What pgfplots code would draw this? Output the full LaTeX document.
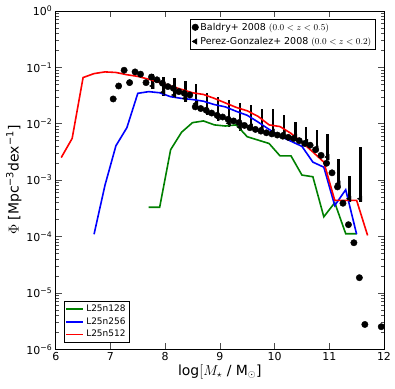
\documentclass[border=0pt]{standalone}
\usepackage{fontspec}
\setmainfont{DejaVu Sans}
\usepackage{pgfplots}
\usepackage{pgfplotstable}
\pgfplotsset{compat=1.18}

\definecolor{mplgreen}{rgb}{0,0.5,0}

% log10 values
\pgfplotstableread{
x ly
6.1 -2.60
6.3 -2.26
6.5 -1.18
6.7 -1.11
6.9 -1.08
7.1 -1.09
7.3 -1.13
7.5 -1.16
7.7 -1.21
7.9 -1.27
8.1 -1.33
8.3 -1.39
8.5 -1.45
8.7 -1.48
8.9 -1.55
9.1 -1.63
9.3 -1.71
9.5 -1.77
9.7 -1.87
9.9 -2.02
10.1 -2.05
10.3 -2.17
10.5 -2.33
10.7 -2.50
10.9 -2.68
11.1 -3.36
11.3 -3.36
11.5 -3.36
11.7 -3.98
}\lbig

\pgfplotstableread{
x ly
6.7 -3.96
6.9 -3.09
7.1 -2.39
7.3 -2.07
7.5 -1.46
7.7 -1.43
7.9 -1.45
8.1 -1.52
8.3 -1.55
8.5 -1.57
8.7 -1.60
8.9 -1.66
9.1 -1.70
9.3 -1.78
9.5 -1.85
9.7 -1.97
9.9 -2.10
10.1 -2.22
10.3 -2.31
10.5 -2.40
10.7 -2.68
10.9 -2.77
11.1 -3.45
11.3 -3.17
11.5 -3.96
}\lmid

\pgfplotstableread{
x ly
7.7 -3.48
7.9 -3.48
8.1 -2.46
8.3 -2.15
8.5 -1.98
8.7 -1.95
8.9 -2.02
9.1 -2.04
9.3 -2.02
9.5 -2.23
9.7 -2.29
9.9 -2.35
10.1 -2.57
10.3 -2.57
10.5 -2.91
10.7 -2.94
10.9 -3.65
11.1 -3.40
11.3 -3.95
11.5 -3.95
}\lsmall

\pgfplotstableread{
x ly
7.05 -1.56
7.15 -1.33
7.25 -1.05
7.35 -1.27
7.45 -1.08
7.55 -1.12
7.65 -1.27
7.75 -1.17
7.85 -1.22
7.95 -1.28
8.05 -1.34
8.15 -1.37
8.25 -1.43
8.35 -1.46
8.45 -1.49
8.55 -1.70
8.65 -1.73
8.75 -1.76
8.85 -1.81
8.95 -1.85
9.05 -1.88
9.15 -1.92
9.25 -1.95
9.35 -1.98
9.45 -2.03
9.55 -2.07
9.65 -2.10
9.75 -2.13
9.85 -2.16
9.95 -2.18
10.05 -2.20
10.15 -2.22
10.25 -2.24
10.35 -2.26
10.45 -2.30
10.55 -2.35
10.65 -2.38
10.75 -2.46
10.85 -2.56
10.95 -2.70
11.05 -2.87
11.15 -3.12
11.25 -3.41
11.35 -3.79
11.45 -4.11
11.55 -4.73
11.65 -5.56
11.95 -5.60
}\baldry

% x, marker, top, bottom (log10)
\pgfplotstableread{
x m t b
7.77 -1.33 -1.12 -1.39
7.97 -1.44 -1.17 -1.50
8.17 -1.49 -1.18 -1.55
8.37 -1.55 -1.25 -1.61
8.57 -1.64 -1.30 -1.70
8.77 -1.79 -1.45 -1.85
8.97 -1.89 -1.52 -1.95
9.17 -1.99 -1.58 -2.05
9.37 -2.06 -1.64 -2.12
9.57 -2.05 -1.67 -2.11
9.77 -2.08 -1.73 -2.14
9.97 -2.14 -1.73 -2.20
10.17 -2.17 -1.85 -2.23
10.38 -2.23 -1.97 -2.29
10.58 -2.32 -2.05 -2.38
10.77 -2.44 -2.11 -2.50
10.97 -2.59 -2.18 -2.65
11.17 -3.06 -2.63 -3.12
11.37 -3.33 -2.93 -3.39
11.57 -3.33 -2.42 -3.39
}\perez

\begin{document}
\begin{tikzpicture}
\begin{axis}[name=ax, scale only axis, width=328bp, height=338bp,
  xmin=6, xmax=12, ymin=1e-6, ymax=1, ymode=log,
  xtick={6,...,12}, xticklabels={6,7,8,9,10,11,12},
  ytick={1e-6,1e-5,1e-4,1e-3,1e-2,1e-1,1},
  yticklabels={10\textsuperscript{−6},10\textsuperscript{−5},10\textsuperscript{−4},10\textsuperscript{−3},10\textsuperscript{−2},10\textsuperscript{−1},10\textsuperscript{0}},
  tick align=inside, xtick pos=both, ytick pos=both,
  major tick length=6bp, minor tick length=3bp,
  tick style={black!70, line width=0.6bp},
  axis line style={line width=0.8bp},
  tick label style={font=\fontsize{11}{13}\selectfont},
  xlabel={$\log[M_{\star}$ / M$_{\odot}$]},
  ylabel={$\Phi$ [Mpc\textsuperscript{−3}dex\textsuperscript{−1}]},
  label style={font=\fontsize{14}{16}\selectfont},
  xlabel style={yshift=3bp},
  ylabel style={yshift=-2bp},
  legend cell align=left,
  legend style={at={(0.973,0.976)}, anchor=north east, font=\fontsize{9.5}{11}\selectfont,
    draw=black, line width=0.6bp, inner sep=1.5bp, row sep=1.5bp},
]
\addplot[only marks, mark=*, mark size=3.2bp, black] table[x=x, y expr=10^(\thisrow{ly})] {\baldry};
\addlegendentry{Baldry+ 2008 $(0.0<z<0.5)$}
\addplot[only marks, mark=triangle*, mark size=3bp, mark options={rotate=90}, black,
  error bars/.cd, y dir=both, y explicit, error mark=none,
  error bar style={line width=2.3bp, black}]
  table[x=x, y expr=10^(\thisrow{m}),
    y error plus expr=10^(\thisrow{t})-10^(\thisrow{m}),
    y error minus expr=10^(\thisrow{m})-10^(\thisrow{b})] {\perez};
\addlegendentry{Perez-Gonzalez+ 2008 $(0.0<z<0.2)$}
\addplot[mplgreen, line width=1.6bp, forget plot] table[x=x, y expr=10^(\thisrow{ly})] {\lsmall};
\addplot[blue, line width=1.6bp, forget plot] table[x=x, y expr=10^(\thisrow{ly})] {\lmid};
\addplot[red, line width=1.6bp, forget plot] table[x=x, y expr=10^(\thisrow{ly})] {\lbig};
\end{axis}
\begin{axis}[name=ax2, scale only axis, width=328bp, height=338bp,
  xmin=6, xmax=12, ymin=1e-6, ymax=1, ymode=log, hide axis,
  legend cell align=left,
  legend image post style={line width=1.6bp},
  legend style={at={(0.025,0.021)}, anchor=south west, font=\fontsize{9}{10.5}\selectfont,
    draw=black, inner sep=1.5bp, row sep=0.5bp},
]
\addlegendimage{mplgreen}
\addlegendentry{L25n128}
\addlegendimage{blue}
\addlegendentry{L25n256}
\addlegendimage{red}
\addlegendentry{L25n512}
\end{axis}
\path (ax.south west) ++(-55.7bp,-39bp);
\path (ax.north east) ++(11bp,11bp);
\end{tikzpicture}
\end{document}
